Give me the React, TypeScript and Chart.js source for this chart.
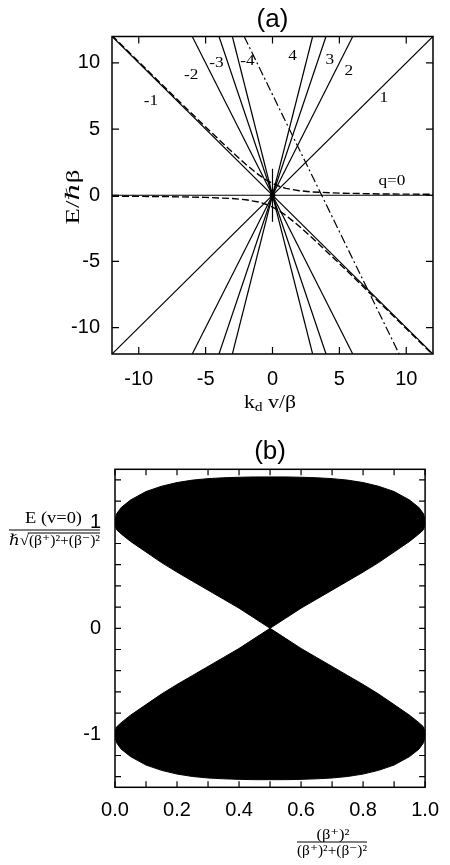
import React, { useEffect, useRef } from 'react';
import { Chart, registerables } from 'chart.js';
Chart.register(...registerables);

const SANS = '"Liberation Sans", Arial, Helvetica, sans-serif';
const SERIF = '"Liberation Serif", "Times New Roman", "DejaVu Serif", serif';

// ---------------- Panel (a) data ----------------
const aTickValues = [-10, -5, 0, 5, 10];
// straight lines E = q * kd v (endpoints where they leave the frame)
const qStartX = [-3, -4, -6, -12, -12, -12, -6, -4, -3];
const qStartE = [12, 12, 12, 12, 0, -12, -12, -12, -12];
const qEndX = [3, 4, 6, 12, 12, 12, 6, 4, 3];
const qEndE = [-12, -12, -12, -12, 0, 12, 12, 12, 12];
const labelTexts = ['-4', '-3', '-2', '-1', 'q=0', '1', '2', '3', '4'];
const labelX = [-1.88, -4.2, -6.08, -9.08, 8.93, 8.33, 5.7, 4.28, 1.5];
const labelE = [10.15, 10.0, 9.09, 7.12, 1.06, 7.35, 9.39, 10.23, 10.53];
// dashed avoided-crossing branches
const dashedX = [-12, -8, -5, -3, -2, -1, -0.5, 0, 0.5, 1, 2, 3, 5, 8, 12];
const dashedUpperE = [12.07, 8.1, 5.16, 3.25, 2.34, 1.52, 1.18, 0.89, 0.68, 0.52, 0.34, 0.25, 0.16, 0.1, 0.07];
const dashedLowerE = [-0.07, -0.1, -0.16, -0.25, -0.34, -0.52, -0.68, -0.89, -1.18, -1.52, -2.34, -3.25, -5.16, -8.1, -12.07];
// dash-dot line
const dashDotX = [-2.12, 9.47];
const dashDotE = [12, -12];
// short vertical stem at the origin
const stemX = [0, 0];
const stemE = [2, -2];

// ---------------- Panel (b) data ----------------
const bXTickValues = [0, 0.2, 0.4, 0.6, 0.8, 1.0];
const bXMinorValues = [0, 0.1, 0.2, 0.3, 0.4, 0.5, 0.6, 0.7, 0.8, 0.9, 1.0];
const bYTickValues = [-1, 0, 1];
const bYMinorValues = [-1.4, -1.2, -1, -0.8, -0.6, -0.4, -0.2, 0, 0.2, 0.4, 0.6, 0.8, 1, 1.2, 1.4];
const pValues = [0, 0.005, 0.02, 0.05, 0.1, 0.15, 0.2, 0.25, 0.3, 0.35, 0.4, 0.45, 0.5, 0.55, 0.6, 0.65, 0.7, 0.75, 0.8, 0.85, 0.9, 0.95, 0.98, 0.995, 1];
const upperOuterE = [1.02, 1.08, 1.14, 1.21, 1.29, 1.34, 1.375, 1.398, 1.412, 1.42, 1.425, 1.428, 1.428, 1.428, 1.425, 1.42, 1.412, 1.398, 1.375, 1.34, 1.29, 1.21, 1.14, 1.08, 1.02];
const upperInnerE = [0.98, 0.93, 0.89, 0.82, 0.72, 0.62, 0.53, 0.445, 0.36, 0.275, 0.19, 0.095, 0, 0.095, 0.19, 0.275, 0.36, 0.445, 0.53, 0.62, 0.72, 0.82, 0.89, 0.93, 0.98];
const lowerInnerE = [-0.98, -0.93, -0.89, -0.82, -0.72, -0.62, -0.53, -0.445, -0.36, -0.275, -0.19, -0.095, 0, -0.095, -0.19, -0.275, -0.36, -0.445, -0.53, -0.62, -0.72, -0.82, -0.89, -0.93, -0.98];
const lowerOuterE = [-1.02, -1.08, -1.14, -1.21, -1.29, -1.34, -1.375, -1.398, -1.412, -1.42, -1.425, -1.428, -1.428, -1.428, -1.425, -1.42, -1.412, -1.398, -1.375, -1.34, -1.29, -1.21, -1.14, -1.08, -1.02];

// ---------------- helpers ----------------
function drawStretched(ctx: any, text: string, cx: number, cy: number, font: string, width: number, rotate = false) {
  ctx.save();
  ctx.font = font;
  const w = ctx.measureText(text).width;
  const s = width / w;
  ctx.translate(cx, cy);
  if (rotate) ctx.rotate(-Math.PI / 2);
  ctx.scale(s, 1);
  ctx.textAlign = 'center';
  ctx.textBaseline = 'middle';
  ctx.fillStyle = '#000';
  ctx.fillText(text, 0, 0);
  ctx.restore();
}

type Part = { text: string; size: number; dy?: number };
function drawGroup(ctx: any, parts: Part[], cx: number, baseY: number, width: number, overlineFrom = -1, overlineDy = 0) {
  ctx.save();
  const widths = parts.map((p) => {
    ctx.font = `${p.size}px ${SERIF}`;
    return ctx.measureText(p.text).width;
  });
  const total = widths.reduce((a, b) => a + b, 0);
  const s = width / total;
  ctx.translate(cx - width / 2, baseY);
  ctx.scale(s, 1);
  ctx.textAlign = 'left';
  ctx.textBaseline = 'alphabetic';
  ctx.fillStyle = '#000';
  ctx.strokeStyle = '#000';
  let x = 0;
  let olStart = 0;
  parts.forEach((p, i) => {
    if (i === overlineFrom) olStart = x;
    ctx.font = `${p.size}px ${SERIF}`;
    ctx.fillText(p.text, x, p.dy || 0);
    x += widths[i];
  });
  if (overlineFrom >= 0) {
    ctx.lineWidth = 1;
    ctx.beginPath();
    ctx.moveTo(olStart - 1, overlineDy);
    ctx.lineTo(x, overlineDy);
    ctx.stroke();
  }
  ctx.restore();
}

function hline(ctx: any, x0: number, x1: number, y: number) {
  ctx.save();
  ctx.strokeStyle = '#000';
  ctx.lineWidth = 1;
  ctx.beginPath();
  ctx.moveTo(x0, y);
  ctx.lineTo(x1, y);
  ctx.stroke();
  ctx.restore();
}

function frameAndTicks(chart: any, xs: number[], ys: number[], len: number) {
  const { ctx, chartArea: ca, scales } = chart;
  const x = scales.x;
  const y = scales.y;
  ctx.save();
  ctx.strokeStyle = '#000';
  ctx.lineWidth = 1.5;
  ctx.strokeRect(ca.left, ca.top, ca.right - ca.left, ca.bottom - ca.top);
  ctx.lineWidth = 1.2;
  ctx.beginPath();
  xs.forEach((v) => {
    const px = x.getPixelForValue(v);
    ctx.moveTo(px, ca.bottom);
    ctx.lineTo(px, ca.bottom - len);
    ctx.moveTo(px, ca.top);
    ctx.lineTo(px, ca.top + len);
  });
  ys.forEach((v) => {
    const py = y.getPixelForValue(v);
    ctx.moveTo(ca.left, py);
    ctx.lineTo(ca.left + len, py);
    ctx.moveTo(ca.right, py);
    ctx.lineTo(ca.right - len, py);
  });
  ctx.stroke();
  ctx.restore();
}

const lineDs = (xs: number[], es: number[], extra: any = {}) => ({
  data: xs.map((x, i) => ({ x, y: es[i] })),
  borderColor: '#000',
  backgroundColor: '#000',
  borderWidth: 1.2,
  pointRadius: 0,
  fill: false,
  tension: 0,
  ...extra,
});

const tickFont = { family: SANS, size: 20, weight: 'normal' as const };

export default function App() {
  const refA = useRef<HTMLCanvasElement>(null);
  const refB = useRef<HTMLCanvasElement>(null);

  useEffect(() => {
    // ---------- chart (a) ----------
    const dsA: any[] = [];
    qStartX.forEach((_, i) => {
      dsA.push(lineDs([qStartX[i], qEndX[i]], [qStartE[i], qEndE[i]]));
    });
    dsA.push(lineDs(dashedX, dashedUpperE, { borderDash: [7, 3], borderWidth: 1.4 }));
    dsA.push(lineDs(dashedX, dashedLowerE, { borderDash: [7, 3], borderWidth: 1.4 }));
    dsA.push(lineDs(dashDotX, dashDotE, { borderDash: [9, 3, 2, 3], borderWidth: 1.2 }));
    dsA.push(lineDs(stemX, stemE));
    dsA.push({ data: [{ x: 0, y: 0 }], showLine: false, pointRadius: 2.5, pointBackgroundColor: '#000', pointBorderColor: '#000' });

    const decorA = {
      id: 'decorA',
      afterDraw(chart: any) {
        const { ctx, scales } = chart;
        frameAndTicks(chart, aTickValues, aTickValues, 7);
        ctx.save();
        labelTexts.forEach((t, i) => {
          ctx.font = `15px ${SERIF}`;
          const w = ctx.measureText(t).width;
          drawStretched(ctx, t, scales.x.getPixelForValue(labelX[i]), scales.y.getPixelForValue(labelE[i]), `15px ${SERIF}`, w * 1.15);
        });
        ctx.restore();
        // y-axis title
        drawStretched(ctx, 'E/ℏβ', 74, 197, `19px ${SERIF}`, 55, true);
        // x-axis title  k_d v/β
        drawGroup(ctx, [
          { text: 'k', size: 18 },
          { text: 'd', size: 13, dy: 3 },
          { text: ' v/β', size: 18 },
        ], 270, 408, 52);
      },
    };

    const chartA = new Chart(refA.current as HTMLCanvasElement, {
      type: 'line',
      data: { datasets: dsA },
      options: {
        responsive: false,
        devicePixelRatio: 1,
        animation: false,
        events: [],
        layout: { padding: { left: 0, right: 17, top: 0, bottom: 0 } },
        plugins: {
          legend: { display: false },
          tooltip: { enabled: false },
          title: {
            display: true,
            text: '(a)',
            fullSize: false,
            color: '#000',
            font: { family: SANS, size: 26, weight: 'normal' },
            padding: { top: 4, bottom: 1.3 },
          },
        },
        scales: {
          x: {
            type: 'linear',
            min: -12,
            max: 12,
            afterBuildTicks: (s: any) => { s.ticks = aTickValues.map((v) => ({ value: v })); },
            afterFit: (s: any) => { s.height = 76; },
            ticks: { color: '#000', font: tickFont, padding: 13, autoSkip: false, maxRotation: 0, callback: (v: any) => String(v) },
            grid: { display: false, drawTicks: false },
            border: { display: false },
          },
          y: {
            type: 'linear',
            min: -12,
            max: 12,
            afterBuildTicks: (s: any) => { s.ticks = aTickValues.map((v) => ({ value: v })); },
            afterFit: (s: any) => { s.width = 112; },
            ticks: { color: '#000', font: tickFont, padding: 12, autoSkip: false, callback: (v: any) => String(v) },
            grid: { display: false, drawTicks: false },
            border: { display: false },
          },
        },
      } as any,
      plugins: [decorA],
    });

    // ---------- chart (b) ----------
    const dsB: any[] = [
      lineDs(pValues, upperOuterE, { fill: '+1', borderWidth: 1 }),
      lineDs(pValues, upperInnerE, { borderWidth: 1 }),
      lineDs(pValues, lowerInnerE, { fill: '+1', borderWidth: 1 }),
      lineDs(pValues, lowerOuterE, { borderWidth: 1 }),
    ];

    const decorB = {
      id: 'decorB',
      afterDraw(chart: any) {
        const { ctx } = chart;
        frameAndTicks(chart, bXMinorValues, bYMinorValues, 6);
        // y-axis title (fraction)
        drawStretched(ctx, 'E (v=0)', 53.5, 89, `17px ${SERIF}`, 57);
        hline(ctx, 9, 100, 100);
        drawGroup(ctx, [
          { text: 'ℏ', size: 15 },
          { text: '√', size: 15 },
          { text: '(β⁺)²+(β⁻)²', size: 14 },
        ], 54.5, 115, 91, 2, -12);
        // x-axis title (fraction)
        drawStretched(ctx, '(β⁺)²', 333, 405, `14px ${SERIF}`, 33);
        hline(ctx, 297, 367, 412);
        drawStretched(ctx, '(β⁺)²+(β⁻)²', 332, 421, `14px ${SERIF}`, 70);
      },
    };

    const chartB = new Chart(refB.current as HTMLCanvasElement, {
      type: 'line',
      data: { datasets: dsB },
      options: {
        responsive: false,
        devicePixelRatio: 1,
        animation: false,
        events: [],
        layout: { padding: { left: 0, right: 15, top: 0, bottom: 0 } },
        plugins: {
          legend: { display: false },
          tooltip: { enabled: false },
          title: {
            display: true,
            text: '(b)',
            fullSize: false,
            color: '#000',
            font: { family: SANS, size: 26, weight: 'normal' },
            padding: { top: 6.4, bottom: 1.7 },
          },
        },
        scales: {
          x: {
            type: 'linear',
            min: 0,
            max: 1,
            afterBuildTicks: (s: any) => { s.ticks = bXTickValues.map((v) => ({ value: v })); },
            afterFit: (s: any) => { s.height = 77.7; },
            ticks: { color: '#000', font: tickFont, padding: 11, autoSkip: false, maxRotation: 0, callback: (v: any) => Number(v).toFixed(1) },
            grid: { display: false, drawTicks: false },
            border: { display: false },
          },
          y: {
            type: 'linear',
            min: -1.5,
            max: 1.5,
            afterBuildTicks: (s: any) => { s.ticks = bYTickValues.map((v) => ({ value: v })); },
            afterFit: (s: any) => { s.width = 115; },
            ticks: { color: '#000', font: tickFont, padding: 14, autoSkip: false, callback: (v: any) => String(v) },
            grid: { display: false, drawTicks: false },
            border: { display: false },
          },
        },
      } as any,
      plugins: [decorB],
    });

    return () => {
      chartA.destroy();
      chartB.destroy();
    };
  }, []);

  return (
    <div style={{ position: 'absolute', left: 0, top: 0, width: 450, height: 865, background: '#fff' }}>
      <canvas ref={refA} width={450} height={430} style={{ position: 'absolute', left: 0, top: 0, width: 450, height: 430 }} />
      <canvas ref={refB} width={450} height={435} style={{ position: 'absolute', left: 0, top: 430, width: 450, height: 435 }} />
    </div>
  );
}
